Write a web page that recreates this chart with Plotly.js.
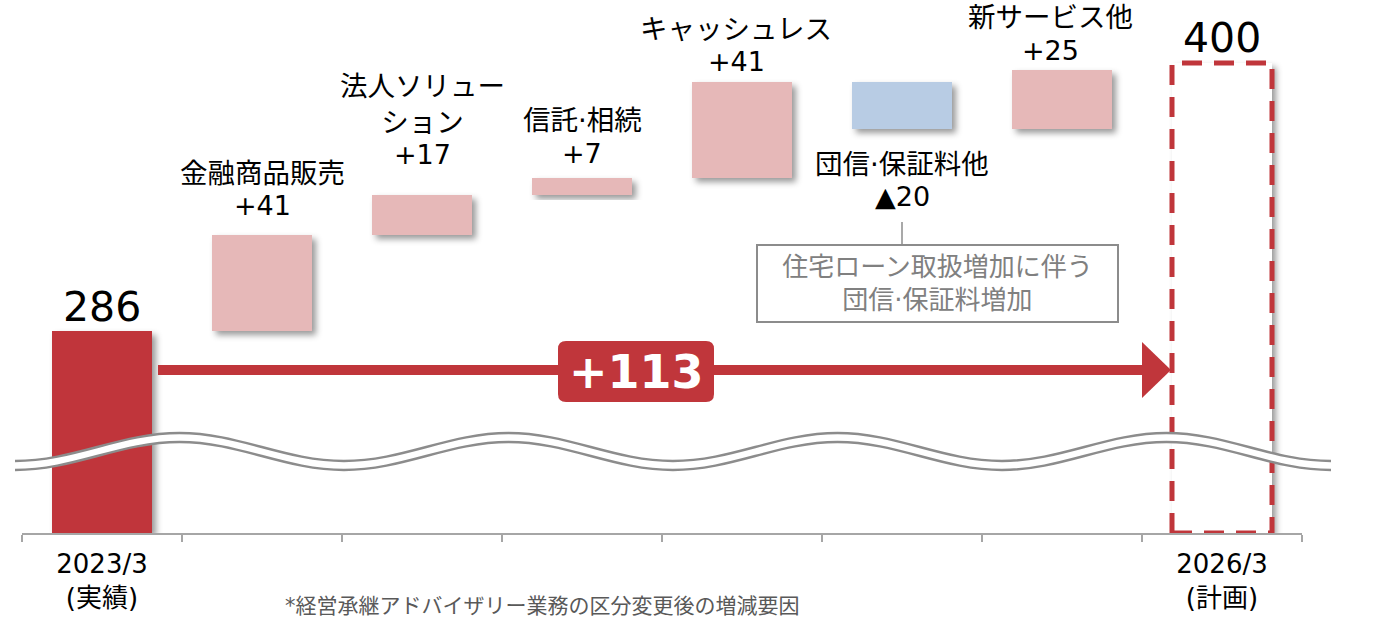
<!DOCTYPE html>
<html>
<head>
<meta charset="utf-8">
<script src="https://cdn.plot.ly/plotly-3.0.1.min.js"></script>
<style>
body{margin:0;background:#fff;}
#chart{width:1390px;height:617px;}
</style>
</head>
<body>
<div id="chart"></div>
<script>
// ---- data ----
const startLabel = '2023/3<br>(実績)';
const endLabel = '2026/3<br>(計画)';
const startValue = 286;
const endValue = 400;
const stepNames = ['金融商品販売', '法人ソリュー<br>ション', '信託·相続', 'キャッシュレス', '団信·保証料他', '新サービス他'];
const stepDeltas = [41, 17, 7, 41, -20, 25];
const totalLabel = '+113';
const noteText = '住宅ローン取扱増加に伴う<br>団信·保証料増加';
const footNote = '*経営承継アドバイザリー業務の区分変更後の増減要因';
const axisFloor = 200;   // the value axis is broken, bars start here

// ---- style ----
const RED = '#c0363b', PINK = '#e6b8b8', BLUE = '#b8cce4', GREY = '#8c8c8c';
const FONT = 'DejaVu Sans, Noto Sans CJK JP, sans-serif';

// plot area in pixels (only used to place the decoration)
const W = 1390, H = 617, L = 22, R = 88, T = 10, B = 84;
const plotW = W - L - R, plotH = H - T - B;
const px = x => (x - L) / plotW;
const py = y => (H - B - y) / plotH;

// waterfall steps
let run = startValue;
const stepBase = [], stepLen = [];
stepDeltas.forEach(d => {
  const next = run + d;
  stepBase.push(Math.min(run, next));
  stepLen.push(Math.abs(d));
  run = next;
});
const stepX = stepDeltas.map((d, i) => i + 1);
const endX = stepDeltas.length + 1;
const barW = 0.625;

const bars = {
  type: 'bar',
  x: [0, ...stepX, endX],
  base: [axisFloor, ...stepBase, axisFloor],
  y: [startValue - axisFloor, ...stepLen, endValue - axisFloor],
  width: barW,
  marker: {color: [RED, ...stepDeltas.map(d => d >= 0 ? PINK : BLUE), '#ffffff'], line: {width: 0}},
  hoverinfo: 'skip'
};

const hw = barW / 2;
const planBox = {
  type: 'scatter', mode: 'lines',
  x: [endX - hw, endX - hw, endX + hw, endX + hw, endX - hw],
  y: [axisFloor, endValue, endValue, axisFloor, axisFloor],
  line: {color: RED, width: 5, dash: '20px,12px'},
  hoverinfo: 'skip'
};

// ---- labels ----
const valueShift = [29, 40, 25, 20, -68, 20];
const labelXShift = [0, 0, 0, -6, 0, -12];
const annotations = [];
stepDeltas.forEach((d, i) => {
  const edge = d >= 0 ? stepBase[i] + stepLen[i] : stepBase[i];
  const txt = d >= 0 ? '+' + d : '▲' + Math.abs(d);
  annotations.push({x: i + 1, y: edge, xref: 'x', yref: 'y', text: txt, showarrow: false,
    xanchor: 'center', yanchor: 'middle', yshift: valueShift[i], xshift: labelXShift[i],
    font: {size: 27, color: '#000', family: FONT}});
  annotations.push({x: i + 1, y: edge, xref: 'x', yref: 'y', text: stepNames[i], showarrow: false,
    xanchor: 'center', yanchor: 'bottom', yshift: valueShift[i] + 15, xshift: labelXShift[i],
    font: {size: 27.5, color: '#000', family: FONT}});
});
annotations.push({x: 0, y: startValue, xref: 'x', yref: 'y', text: String(startValue), showarrow: false,
  xanchor: 'center', yanchor: 'middle', yshift: 24, font: {size: 41, color: '#000', family: FONT}});
annotations.push({x: endX, y: endValue, xref: 'x', yref: 'y', text: String(endValue), showarrow: false,
  xanchor: 'center', yanchor: 'middle', yshift: 25, font: {size: 41, color: '#000', family: FONT}});
annotations.push({x: px(636), y: py(372), xref: 'paper', yref: 'paper', text: '<b>' + totalLabel + '</b>',
  showarrow: false, xanchor: 'center', yanchor: 'middle', font: {size: 46, color: '#fff', family: FONT}});
annotations.push({x: px(937), y: py(283), xref: 'paper', yref: 'paper', text: noteText, showarrow: false,
  xanchor: 'center', yanchor: 'middle',
  width: 355, height: 71, borderpad: 2, bordercolor: GREY, borderwidth: 2,
  font: {size: 26, color: '#808080', family: FONT}});
annotations.push({x: px(542), y: py(606), xref: 'paper', yref: 'paper', text: footNote, showarrow: false,
  xanchor: 'center', yanchor: 'middle', font: {size: 21, color: '#595959', family: FONT}});

// ---- decoration: arrow, label box, callout line, axis break ----
function roundRect(x0, y0, x1, y1, r) {
  return `M${px(x0 + r)},${py(y0)} L${px(x1 - r)},${py(y0)} Q${px(x1)},${py(y0)} ${px(x1)},${py(y0 + r)} ` +
    `L${px(x1)},${py(y1 - r)} Q${px(x1)},${py(y1)} ${px(x1 - r)},${py(y1)} L${px(x0 + r)},${py(y1)} ` +
    `Q${px(x0)},${py(y1)} ${px(x0)},${py(y1 - r)} L${px(x0)},${py(y0 + r)} Q${px(x0)},${py(y0)} ${px(x0 + r)},${py(y0)} Z`;
}

const waveX0 = 15, waveX1 = 1331, waveN = 8, waveHi = 433, waveLo = 461, waveGap = 9;
const waveH = (waveX1 - waveX0) / waveN;
function wavePts(dy) {
  const pts = [];
  for (let k = 0; k <= waveN; k++) pts.push([waveX0 + k * waveH, (k % 2 ? waveHi : waveLo) + dy]);
  return pts;
}
function waveSegs(pts) {
  let s = '';
  for (let k = 1; k < pts.length; k++) {
    const [xa, ya] = pts[k - 1], [xb, yb] = pts[k];
    const d = xb - xa;
    s += ` C${px(xa + 0.36 * d)},${py(ya)} ${px(xb - 0.36 * d)},${py(yb)} ${px(xb)},${py(yb)}`;
  }
  return s;
}
const waveTop = wavePts(0), waveBot = wavePts(waveGap);
const topPath = `M${px(waveTop[0][0])},${py(waveTop[0][1])}` + waveSegs(waveTop);
const botPath = `M${px(waveBot[0][0])},${py(waveBot[0][1])}` + waveSegs(waveBot);
const botRev = waveBot.slice().reverse();
const bandPath = topPath + ` L${px(botRev[0][0])},${py(botRev[0][1])}` + waveSegs(botRev) + ' Z';

const shapes = [
  {type: 'path', xref: 'paper', yref: 'paper', path: bandPath, fillcolor: '#fff', line: {width: 0}},
  {type: 'path', xref: 'paper', yref: 'paper', path: topPath, line: {color: GREY, width: 2.5}},
  {type: 'path', xref: 'paper', yref: 'paper', path: botPath, line: {color: GREY, width: 2.5}},
  {type: 'line', xref: 'paper', yref: 'paper', x0: px(158), x1: px(1143), y0: py(370), y1: py(370),
    line: {color: RED, width: 10}},
  {type: 'path', xref: 'paper', yref: 'paper',
    path: `M${px(1142)},${py(342)} L${px(1171)},${py(370)} L${px(1142)},${py(398)} Z`,
    fillcolor: RED, line: {width: 0}},
  {type: 'path', xref: 'paper', yref: 'paper', path: roundRect(558, 341, 714, 402, 8),
    fillcolor: RED, line: {width: 0}},
  {type: 'line', xref: 'paper', yref: 'paper', x0: px(902), x1: px(902), y0: py(222), y1: py(246),
    line: {color: GREY, width: 1.5}}
];

const boundaries = [];
for (let i = 0; i <= endX + 1; i++) boundaries.push(i - 0.5);

const layout = {
  width: W, height: H,
  margin: {l: L, r: R, t: T, b: B},
  paper_bgcolor: '#fff', plot_bgcolor: '#fff',
  showlegend: false,
  bargap: 0,
  xaxis: {
    range: [-0.5, endX + 0.5], showgrid: false, zeroline: false,
    showline: true, linecolor: '#a6a6a6', linewidth: 1.5,
    tickmode: 'array', tickvals: [0, endX], ticktext: [startLabel, endLabel], ticks: '',
    ticklabelstandoff: 7,
    tickfont: {size: 26, color: '#000', family: FONT},
    minor: {tickmode: 'array', tickvals: boundaries, ticks: 'outside', ticklen: 7, tickcolor: '#a6a6a6', tickwidth: 1.5, showgrid: false}
  },
  yaxis: {range: [axisFloor, axisFloor + plotH / 2.35], visible: false, fixedrange: true},
  annotations: annotations,
  shapes: shapes
};

Plotly.newPlot('chart', [bars, planBox], layout, {staticPlot: true}).then(gd => {
  const NS = 'http://www.w3.org/2000/svg';
  const defs = gd.querySelector('svg.main-svg defs');
  const f = document.createElementNS(NS, 'filter');
  f.setAttribute('id', 'barShadow');
  f.setAttribute('x', '-20%'); f.setAttribute('y', '-20%');
  f.setAttribute('width', '150%'); f.setAttribute('height', '150%');
  const ds = document.createElementNS(NS, 'feDropShadow');
  ds.setAttribute('dx', '4'); ds.setAttribute('dy', '4'); ds.setAttribute('stdDeviation', '3');
  ds.setAttribute('flood-color', '#000'); ds.setAttribute('flood-opacity', '0.4');
  f.appendChild(ds);
  defs.appendChild(f);
  gd.querySelectorAll('.barlayer .point path').forEach(p => p.setAttribute('filter', 'url(#barShadow)'));
});
</script>
</body>
</html>
